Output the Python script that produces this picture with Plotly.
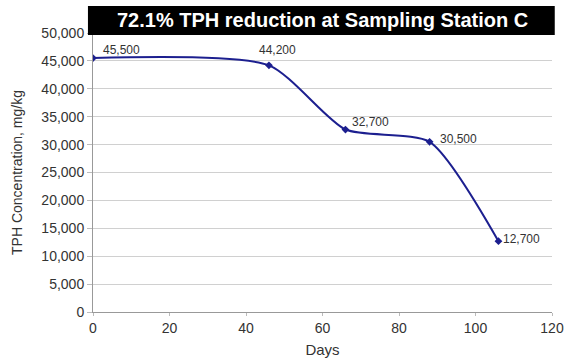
import plotly.graph_objects as go

# Sampling days and measured TPH concentration (mg/kg)
days = [0, 46, 66, 88, 106]
tph = [45500, 44200, 32700, 30500, 12700]
labels = ["45,500", "44,200", "32,700", "30,500", "12,700"]

x_ticks = [0, 20, 40, 60, 80, 100, 120]
y_ticks = [0, 5000, 10000, 15000, 20000, 25000, 30000, 35000, 40000, 45000, 50000]
y_tick_text = ["0", "5,000", "10,000", "15,000", "20,000", "25,000",
               "30,000", "35,000", "40,000", "45,000", "50,000"]

title_text = "72.1% TPH reduction at Sampling Station C"
line_color = "#1c1f8f"
font_family = "Liberation Sans, Arial, Helvetica, sans-serif"

fig = go.Figure()
fig.add_trace(go.Scatter(
    x=days, y=tph,
    mode="lines+markers",
    line=dict(color=line_color, width=2, shape="spline", smoothing=0.65),
    marker=dict(symbol="diamond", size=6, color=line_color),
    hoverinfo="skip",
    showlegend=False,
))

# Value labels beside each point
label_offsets = [(8, 8), (-12, 15), (5, 8), (8, 3), (3, 2)]
for d, v, t, (dx, dy) in zip(days, tph, labels, label_offsets):
    fig.add_annotation(
        x=d, y=v, text=t, showarrow=False,
        xanchor="left", yanchor="middle",
        xshift=dx, yshift=dy,
        font=dict(family=font_family, size=12, color="#333333"),
    )

# Black title banner
fig.add_shape(
    type="rect", xref="paper", yref="paper",
    x0=-0.011, x1=1.006, y0=0.993, y1=1.097,
    fillcolor="black", line=dict(width=0), layer="above",
)
fig.add_annotation(
    xref="paper", yref="paper", x=0.501, y=1.045,
    text="<b>" + title_text + "</b>", showarrow=False,
    xanchor="center", yanchor="middle",
    font=dict(family=font_family, size=20, color="white"),
)

fig.update_layout(
    width=565, height=358,
    margin=dict(l=93, r=13, t=33, b=46, autoexpand=False),
    paper_bgcolor="white", plot_bgcolor="white",
    font=dict(family=font_family, size=14, color="#333333"),
)
fig.update_xaxes(
    range=[0, 120], tickvals=x_ticks,
    showgrid=False, zeroline=False,
    showline=True, linecolor="#999999", linewidth=1,
    ticks="outside", ticklen=3, tickcolor="#bbbbbb",
    ticklabeloverflow="allow", automargin=False,
    tickfont=dict(size=14, color="#333333"),
    title=dict(text="Days", font=dict(size=15, color="#333333")),
)
fig.update_yaxes(
    range=[0, 50000], tickvals=y_ticks, ticktext=y_tick_text,
    showgrid=True, gridcolor="#d0d0d0", gridwidth=1,
    zeroline=False,
    showline=True, linecolor="#999999", linewidth=1,
    ticks="outside", ticklen=5, tickcolor="#bbbbbb",
    automargin=False,
    tickfont=dict(size=14, color="#333333"),
    title=dict(text="TPH Concentration, mg/kg", font=dict(size=14, color="#333333")),
)

fig.write_html("out.html")
